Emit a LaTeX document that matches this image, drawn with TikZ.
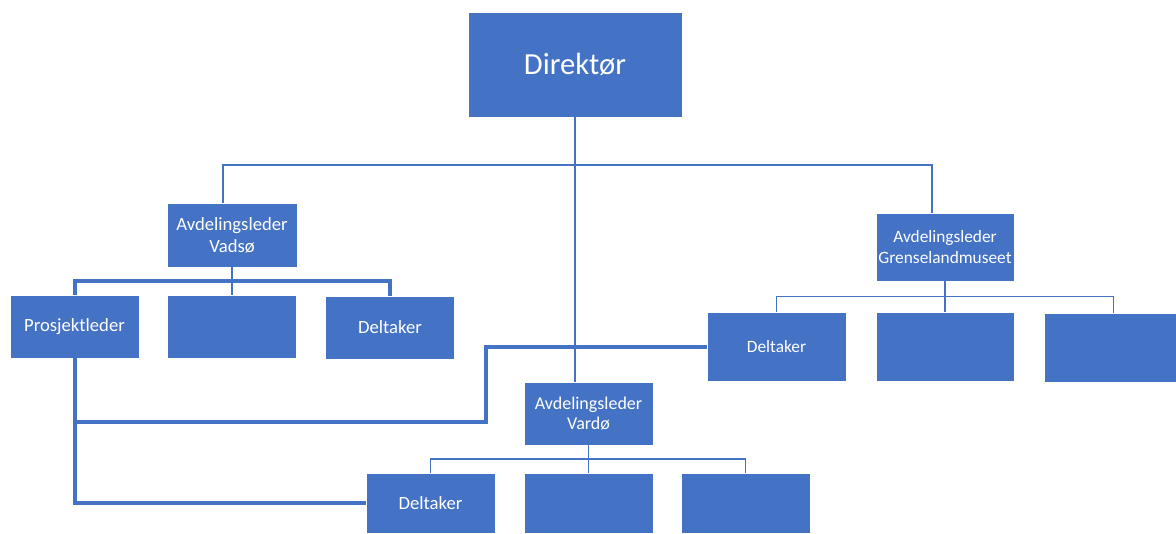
\documentclass[tikz,border=0pt]{standalone}
\usepackage{fontspec}
\setmainfont{Carlito}
\usepackage{xcolor}
\definecolor{orgblaa}{HTML}{4472C4}
\usetikzlibrary{positioning, calc}

\begin{document}
\begin{tikzpicture}[x=0.75pt, y=-0.75pt,
  enhet/.style={fill=orgblaa, draw=white, line width=0.5pt, text=white, align=center,
    minimum width=96.75pt, minimum height=47.25pt, inner sep=1pt,
    font=\fontsize{14}{16.5}\selectfont},
  liten/.style={font=\fontsize{13}{15.5}\selectfont},
  tynn/.style={draw=orgblaa, line width=0.8pt},
  tykk/.style={draw=orgblaa, line width=3pt}]

  \useasboundingbox (0,0) rectangle (1176,534);
  \clip (0,0) rectangle (1176,534);

  % Direktør
  \node[enhet, minimum width=160.5pt, minimum height=78.75pt, font=\fontsize{23}{27}\selectfont] (dir) at (575,64.5) {Direktør};

  % Vadsø
  \node[enhet, minimum width=97.5pt, minimum height=48pt] (vadso) at (232,235) {Avdelingsleder\\Vadsø};
  \node[enhet] (vadso1) at (74.5,326.5) {Prosjektleder};
  \node[enhet] (vadso2) at (232,326.5) {};
  \node[enhet] (vadso3) at (390,327.5) {Deltaker};

  % Grenselandmuseet
  \node[enhet, liten, minimum width=103.5pt, minimum height=51pt] (grense) at (945,247) {Avdelingsleder\\Grenselandmuseet};
  \node[enhet, liten, minimum width=104.25pt, minimum height=51.75pt] (grense1) at (776.5,346.5) {Deltaker};
  \node[enhet, liten, minimum width=103.5pt, minimum height=51.75pt] (grense2) at (945,346.5) {};
  \node[enhet, liten, minimum width=104.25pt, minimum height=51.75pt] (grense3) at (1113.5,347.5) {};

  % Vardø
  \node[enhet, font=\fontsize{13.5}{15}\selectfont] (vardo) at (588.5,413.5) {Avdelingsleder\\Vardø};
  \node[enhet, minimum height=45pt] (vardo1) at (430.5,503) {Deltaker};
  \node[enhet, minimum height=45pt] (vardo2) at (588.5,503) {};
  \node[enhet, minimum height=45pt] (vardo3) at (745.5,503) {};

  % linjer fra direktør
  \coordinate (buss) at (575,165);
  \draw[tynn] (dir.south) -- (dir.south |- vardo.north);
  \draw[tynn] ([xshift=-6.75pt]vadso.north) |- (buss) -| ([xshift=-9.75pt]grense.north);

  % linjer i hver avdeling
  \draw[tynn] (vadso.south) -- (vadso2.north);
  \draw[tykk] (vadso1.north) |- ($(vadso.south)!.5!(vadso2.north)$) -| (vadso3.north);
  \draw[tynn] (grense.south) -- (grense2.north);
  \draw[tynn] (grense1.north) |- ($(grense.south)!.5!(grense2.north)$) -| (grense3.north);
  \draw[tynn] (vardo.south) -- (vardo2.north);
  \draw[tynn] (vardo1.north) |- ($(vardo.south)!.5!(vardo2.north)$) -| (vardo3.north);

  % prosjektgruppa
  \coordinate (knekk) at (486,422);
  \draw[tykk] (vadso1.south) |- (vardo1.west);
  \draw[tykk] (vadso1.south |- knekk) -- (knekk) |- (grense1.west);

\end{tikzpicture}
\end{document}
